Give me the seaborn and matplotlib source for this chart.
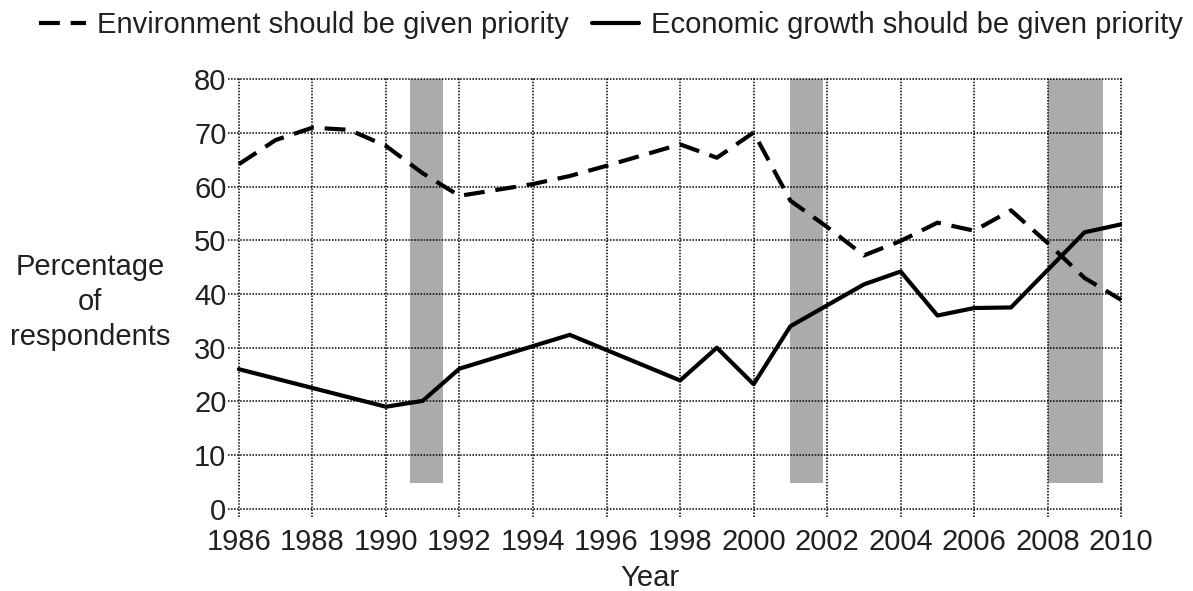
import matplotlib

matplotlib.use("Agg")

import matplotlib.pyplot as plt
import pandas as pd
import seaborn as sns

# valores
env_years = [1986, 1987, 1988, 1989, 1990, 1991, 1992, 1993, 1994, 1995, 1996, 1997,
             1998, 1999, 2000, 2001, 2002, 2003, 2004, 2005, 2006, 2007, 2008, 2009, 2010]
env_values = [64.2, 68.7, 71.0, 70.6, 67.6, 62.5, 58.3, 59.4, 60.5, 62.0, 63.9, 65.9,
              67.9, 65.4, 70.1, 57.4, 52.5, 47.2, 49.9, 53.3, 51.8, 55.6, 49.5, 43.0, 38.9]

econ_years = [1986, 1990, 1991, 1992, 1995, 1998, 1999, 2000, 2001, 2003, 2004,
              2005, 2006, 2007, 2009, 2010]
econ_values = [26.0, 19.0, 20.1, 26.1, 32.4, 23.9, 30.0, 23.2, 34.0, 41.8, 44.2,
               36.0, 37.4, 37.5, 51.5, 53.0]

# recesiones (inicio, fin)
recession_start = [1990.65, 2001.0, 2008.0]
recession_end = [1991.55, 2001.9, 2009.5]
band_bottom = 4.7
band_top = 80

env_label = "Environment should be given priority"
econ_label = "Economic growth should be given priority"

TEXT = "#231f20"
FS = 21

sns.set_theme(style="white")
plt.rcParams["font.family"] = ["Liberation Sans", "DejaVu Sans"]
plt.rcParams["text.color"] = TEXT

df = pd.concat([
    pd.DataFrame({"year": env_years, "value": env_values, "series": env_label}),
    pd.DataFrame({"year": econ_years, "value": econ_values, "series": econ_label}),
])

fig = plt.figure(figsize=(11.93, 5.91), dpi=100)
ax = fig.add_axes([0.191, 0.1256, 0.9405 - 0.191, 0.8675 - 0.1256])

widths = [e - s for s, e in zip(recession_start, recession_end)]
ax.bar(recession_start, [band_top - band_bottom] * len(widths), width=widths,
       bottom=band_bottom, align="edge", color="#ababab", linewidth=0, zorder=1)

sns.lineplot(data=df, x="year", y="value", hue="series", style="series",
             palette={env_label: "black", econ_label: "black"},
             dashes={env_label: (5, 2.6), econ_label: ""},
             linewidth=3, legend=False, ax=ax, zorder=3)

ax.set_xlim(1985.7, 2010.02)
ax.set_ylim(-1.5, 80.2)
ax.set_xticks(range(1986, 2011, 2))
ax.set_yticks(range(0, 81, 10))
ax.grid(True, color="black", linestyle=(0, (1, 1)), linewidth=1.1, zorder=2)
ax.set_axisbelow(False)
for spine in ax.spines.values():
    spine.set_visible(False)
ax.tick_params(length=0, labelsize=FS, labelcolor=TEXT)
ax.tick_params(axis="x", pad=8)
ax.tick_params(axis="y", pad=1)

ax.set_xlabel("Year", fontsize=FS, color=TEXT)
ax.xaxis.set_label_coords(0.472, -0.107)
ax.set_ylabel("Percentage\nof\nrespondents", fontsize=FS, color=TEXT,
              rotation=0, ha="center", va="center", multialignment="center",
              linespacing=1.3)
ax.yaxis.set_label_coords(-0.154, 0.49)

handles = [
    plt.Line2D([], [], color="black", linewidth=3, dashes=(5, 2.6)),
    plt.Line2D([], [], color="black", linewidth=3),
]
fig.legend(handles, [env_label, econ_label], loc="center",
           bbox_to_anchor=(0.512, 0.958), ncol=2, frameon=False, fontsize=FS,
           handlelength=1.6, handletextpad=0.4, columnspacing=0.8,
           borderpad=0, borderaxespad=0)

fig.savefig("out.png", dpi=100)
plt.close(fig)
